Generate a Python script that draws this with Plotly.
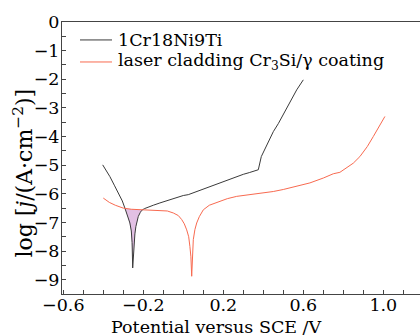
import numpy as np
import plotly.graph_objects as go

# 1Cr18Ni9Ti polarization curve
steel_E = [-0.403, -0.38, -0.367, -0.345, -0.325, -0.305, -0.292, -0.28, -0.267, -0.26,
           -0.256, -0.253, -0.25, -0.247, -0.242, -0.237, -0.23, -0.225, -0.215, -0.208,
           -0.195, -0.175, -0.15, -0.117, -0.08, -0.04, 0.0, 0.025, 0.06, 0.1,
           0.133, 0.17, 0.2, 0.235, 0.267, 0.3, 0.33, 0.358, 0.375, 0.39,
           0.417, 0.45, 0.475, 0.5, 0.533, 0.567, 0.6]
steel_logj = [-4.99, -5.25, -5.4, -5.7, -5.98, -6.25, -6.5, -6.75, -7.02, -7.3,
              -7.7, -8.59, -8.1, -7.72, -7.4, -7.14, -6.92, -6.79, -6.65, -6.58,
              -6.52, -6.46, -6.4, -6.32, -6.23, -6.13, -6.06, -6.03, -5.94, -5.84,
              -5.74, -5.64, -5.56, -5.48, -5.4, -5.32, -5.26, -5.19, -5.16, -4.7,
              -4.29, -3.83, -3.55, -3.24, -2.84, -2.37, -2.02]

# laser cladding Cr3Si/gamma coating polarization curve
coat_E = [-0.4, -0.37, -0.34, -0.3, -0.26, -0.208, -0.16, -0.117, -0.08, -0.05,
          -0.025, -0.008, 0.005, 0.017, 0.027, 0.033, 0.038, 0.042, 0.046, 0.05,
          0.058, 0.067, 0.08, 0.1, 0.13, 0.167, 0.22, 0.267, 0.317, 0.383,
          0.45, 0.5, 0.567, 0.633, 0.7, 0.75, 0.783, 0.82, 0.85, 0.883,
          0.92, 0.95, 0.98, 1.008]
coat_logj = [-6.15, -6.3, -6.4, -6.5, -6.54, -6.56, -6.57, -6.58, -6.6, -6.67,
             -6.76, -6.9, -7.05, -7.26, -7.5, -7.84, -8.2, -8.88, -8.0, -7.6,
             -7.25, -7.02, -6.8, -6.56, -6.4, -6.3, -6.17, -6.09, -6.05, -6.0,
             -5.92, -5.85, -5.74, -5.62, -5.45, -5.3, -5.25, -5.07, -4.93, -4.7,
             -4.35, -4.0, -3.65, -3.3]

series_names = ["1Cr18Ni9Ti", "laser cladding Cr<sub>3</sub>Si/γ coating"]
series_colors = ["#3a3a3a", "#f86a50"]

x_ticks = [-0.6, -0.2, 0.2, 0.6, 1.0]
x_tick_text = ["−0.6", "−0.2", "0.2", "0.6", "1.0"]
y_ticks = [0, -1, -2, -3, -4, -5, -6, -7, -8, -9]

FONT = "DejaVu Serif"
FS = 17.5

# shaded region between coating curve (top) and steel V (below), derived from data
sx = np.array(steel_E); sy = np.array(steel_logj)
cx = np.array(coat_E); cy = np.array(coat_logj)
grid = np.union1d(np.linspace(-0.33, -0.18, 400), sx[(sx > -0.33) & (sx < -0.18)])
b = np.interp(grid, sx, sy)
r = np.interp(grid, cx, cy)
mask = b < r
xs = grid[mask]
top = r[mask]
bot = b[mask]

fig = go.Figure()
fig.add_trace(go.Scatter(x=np.concatenate([xs, xs[::-1]]), y=np.concatenate([top, bot[::-1]]),
                         fill="toself", fillcolor="#e2c0e4", line=dict(width=0),
                         mode="lines", showlegend=False, hoverinfo="skip"))
fig.add_trace(go.Scatter(x=steel_E, y=steel_logj, mode="lines", name=series_names[0],
                         line=dict(color=series_colors[0], width=1), showlegend=False))
fig.add_trace(go.Scatter(x=coat_E, y=coat_logj, mode="lines", name=series_names[1],
                         line=dict(color=series_colors[1], width=1), showlegend=False))

axis_common = dict(showline=True, linecolor="#444", linewidth=1, mirror=True,
                   showgrid=False, zeroline=False, ticks="inside", ticklen=4,
                   tickcolor="#444", tickfont=dict(family=FONT, size=FS, color="black"))

fig.update_xaxes(range=[-0.6065, 1.1835], tickvals=x_ticks, ticktext=x_tick_text,
                 ticklabelstandoff=-5,
                 minor=dict(dtick=0.1, tick0=-0.6, ticks="inside", ticklen=4, tickcolor="#444"),
                 **axis_common)
fig.update_yaxes(range=[-9.5, 0], tickvals=y_ticks, ticklabelstandoff=-2,
                 minor=dict(dtick=0.5, tick0=0, ticks="inside", ticklen=4, tickcolor="#444"),
                 **axis_common)

# manual legend (line samples + labels)
legend_rows = [0.934, 0.853]
shapes = []
annotations = []
for name, color, yy in zip(series_names, series_colors, legend_rows):
    shapes.append(dict(type="line", xref="paper", yref="paper", x0=0.0503, x1=0.1397,
                       y0=yy, y1=yy, line=dict(color=color, width=1)))
    annotations.append(dict(text=name, xref="paper", yref="paper", x=0.150, y=yy,
                            xanchor="left", yanchor="middle", showarrow=False,
                            font=dict(family=FONT, size=FS, color="black")))

annotations += [
    dict(text="Potential versus SCE /V", xref="paper", yref="paper",
         x=0.43, y=-0.122, xanchor="center", yanchor="middle", showarrow=False,
         font=dict(family=FONT, size=FS)),
    dict(text="log [<i>j</i>/(A·cm<sup>−2</sup>)]", xref="paper", yref="paper",
         x=-0.11, y=0.445, xanchor="center", yanchor="middle", textangle=-90,
         showarrow=False, font=dict(family=FONT, size=22)),
]

fig.update_layout(
    width=420, height=336,
    margin=dict(l=62, r=0, t=22, b=42),
    plot_bgcolor="white", paper_bgcolor="white",
    font=dict(family=FONT, size=FS, color="black"),
    showlegend=False,
    shapes=shapes,
    annotations=annotations,
)

fig.write_html("out.html")
